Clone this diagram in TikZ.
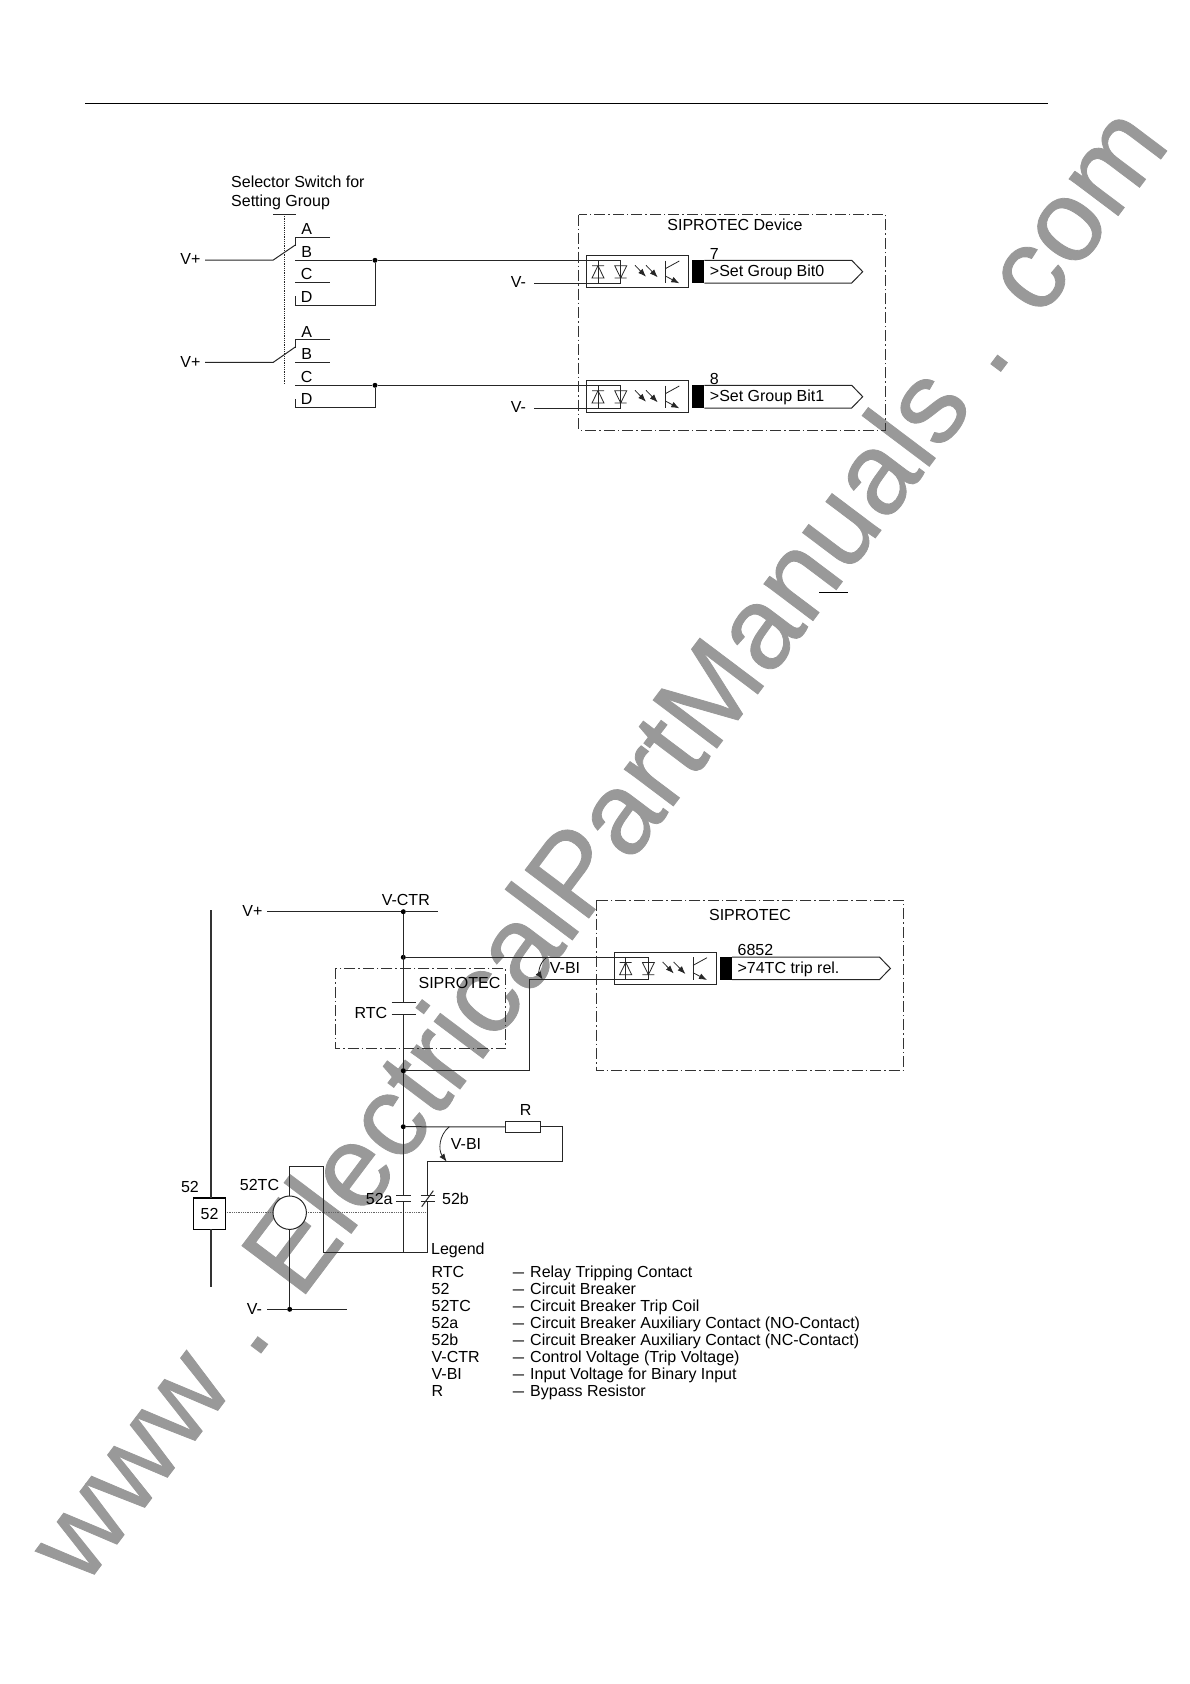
\documentclass[tikz,border=0pt]{standalone}
\usepackage{fontspec}
\setmainfont{Liberation Sans}
\newfontfamily\markfont[FakeBold=0.7]{Liberation Sans}
\usetikzlibrary{arrows.meta}
\tikzset{
  wire/.style={line width=1pt,black!85},
  thin wire/.style={line width=.8pt,black!85},
  device/.style={line width=1pt,black!80,dash pattern=on 11pt off 3pt on 1.5pt off 3pt},
  lbl/.style={inner sep=0pt,text height=11.5pt,text depth=0pt,font=\fontsize{16}{16}\selectfont},
  junction/.style={circle,fill=black,inner sep=0pt,minimum size=5pt},
  tip/.style={-{Latex[length=8pt,width=6pt]}}
}
\newcommand{\legdash}{\resizebox{11.3pt}{\height}{—}\hspace{6pt}}
\begin{document}
\begin{tikzpicture}[x=1pt,y=-1pt]
\useasboundingbox (0,0) rectangle (1190,1684);
\node (watermark) at (84,1588) [anchor=base west,inner sep=0pt,rotate=53,text=black!40,font=\markfont\fontsize{116}{116}\selectfont] {www . ElectricalPartManuals . com};

\draw [line width=1pt] (85,103.3) -- (1048,103.3);
\draw [line width=1pt] (819,592.3) -- (847.7,592.3);

\node at (231,187) [lbl,anchor=base west] (title1) {Selector Switch for};
\node at (231,206) [lbl,anchor=base west] (title2) {Setting Group};
\draw [wire] (273,214) -- (296,214);
\draw [thin wire,densely dotted] (284.3,214) -- (284.3,384);

\foreach \row/\ly/\letter in {1/229/A,2/274/C,3/331.7/A,4/353.7/B}
  \node at (306.7,\ly) [lbl] (cont\row) {\letter};
\node at (306.7,251.3) [lbl] (contB) {B};
\node at (306.7,296.7) [lbl] (contD) {D};
\node at (306.7,376.7) [lbl] (contC) {C};
\node at (306.7,399) [lbl] (contDD) {D};

\foreach \wy in {282.7,362.3}
  \draw [wire] (295.3,\wy) -- (330,\wy);

\coordinate (armA) at (295.3,237.3);
\coordinate (armB) at (295.3,339.3);
\draw [wire] (330,237.3) -- (armA) -- ++(0,8.5);
\draw [wire] (330,339.3) -- (armB) -- ++(0,8.5);

\node at (190.5,259) [lbl] (vplusA) {V+};
\node at (190.5,361.5) [lbl] (vplusB) {V+};
\draw [wire] (205,260) -- (273.3,260) -- (295.3,245);
\draw [wire] (205,362.3) -- (273.3,362.3) -- (295.3,347);

\node at (375,260.3) [junction] (dotA) {};
\node at (375,385.3) [junction] (dotB) {};
\draw [wire] (295.3,296) -- (295.3,305.3) -- (375,305.3) -- (dotA);
\draw [wire] (295.3,399) -- (295.3,407.7) -- (375,407.7) -- (dotB);

\node at (518.5,282) [lbl] (vminusA) {V-};
\node at (518.5,407) [lbl] (vminusB) {V-};
\draw [wire] (295.3,260.3) -- (dotA) -- (620.7,260.3) -- (620.7,283.3) -- (534,283.3);
\draw [wire] (295.3,385.3) -- (dotB) -- (620.7,385.3) -- (620.7,408.3) -- (534,408.3);

\draw [device] (578.7,214.7) rectangle (885.3,430);
\node at (735,225) [lbl] (devA) {SIPROTEC Device};

\foreach \dx/\dy/\tagno/\tagname in {0/0/7/{>Set Group Bit0},0/125/8/{>Set Group Bit1},27.7/696.7/6852/{>74TC trip rel.}}
{
\begin{scope}[shift={(\dx,\dy)}]
\draw [wire] (586.3,255.3) rectangle (688.7,287.3);
\draw [thin wire] (598,260.3) -- (598,283.3);
\draw [thin wire] (592,265.7) -- (604,265.7) (598,265.7) -- (592,278) -- (604,278) -- cycle;
\draw [thin wire] (614.7,265.7) -- (626.7,265.7) -- (620.7,278) -- cycle (614.7,278) -- (626.7,278);
\draw [thin wire,tip] (635,265.3) -- (646,276.7);
\draw [thin wire,tip] (646,265.3) -- (657.7,277.3);
\draw [wire] (665.3,260.7) -- (665.3,283.3);
\draw [thin wire] (665.3,268.7) -- (679.3,261);
\draw [thin wire,tip] (665.3,276) -- (679.3,283.3);
\fill (692.3,260.3) rectangle (704.3,283);
\draw [wire] (704.3,260.3) -- (851.7,260.3) -- (862.7,271.7) -- (851.7,283) -- (704.3,283);
\node at (709.7,253.3) [lbl,anchor=west] {\tagno};
\node at (709.7,271) [lbl,anchor=west] {\tagname};
\end{scope}
}

\draw [device] (596.7,900) rectangle (903.3,1070.7);
\node at (750,914.3) [lbl] (devC) {SIPROTEC};
\draw [device] (335,968.3) rectangle (505.7,1048.3);
\node at (459.5,982.7) [lbl] (devB) {SIPROTEC};

\node at (252.5,911) [lbl] (vplusC) {V+};
\node at (405.8,899.3) [lbl] (vctr) {V-CTR};
\node at (403.3,911.7) [junction] (dotC) {};
\node at (403.3,957.3) [junction] (dotD) {};
\node at (403.3,1070.7) [junction] (dotE) {};
\node at (403.3,1126.7) [junction] (dotF) {};
\draw [wire] (267.3,911.7) -- (dotC) -- (437.7,911.7);

\draw [wire] (dotC) -- (403.3,1002);
\draw [wire] (391.7,1002) -- (416,1002);
\draw [wire] (391.7,1014) -- (416,1014);
\node at (370.8,1012.7) [lbl] (rtc) {RTC};
\draw [wire] (403.3,1014) -- (dotE) -- (dotF) -- (403.3,1195);
\draw [wire] (dotD) -- (648.4,957.3) -- (648.4,979.3) -- (529.3,979.3) -- (529.3,1070.7) -- (dotE);

\draw [thin wire,tip] (546.7,957.3) .. controls (538,964) and (539,974) .. (542.7,979.5);
\node at (565,967.7) [lbl] (vbiA) {V-BI};

\node at (522.9,1126.9) [draw,wire,fill=white,minimum width=34.6pt,minimum height=11.7pt,inner sep=0pt] (res) {};
\node at (525.7,1109.3) [lbl] (rlbl) {R};
\draw [wire] (dotF) -- (res.west);
\draw [wire] (res.east) -- (562.7,1126.9) -- (562.7,1161.7) -- (427.7,1161.7) -- (427.7,1195);
\draw [thin wire,tip] (449.3,1126.7) .. controls (439,1135) and (438,1150) .. (446.7,1161.7);
\node at (466,1144) [lbl] (vbiB) {V-BI};

\draw [wire] (396,1195) -- (410.7,1195);
\draw [wire] (396,1201) -- (410.7,1201);
\node at (379.2,1198.3) [lbl] (lblA) {52a};
\draw [wire] (420.7,1195) -- (435.3,1195);
\draw [wire] (420.7,1201) -- (435.3,1201);
\draw [wire] (421.7,1206.7) -- (433.3,1190.7);
\node at (455.5,1198.3) [lbl] (lblB) {52b};

\draw [thin wire,black!60,densely dotted] (226.7,1212.7) -- (427.7,1212.7);

\node at (289.7,1212.7) [draw,wire,fill=white,circle,inner sep=0pt,minimum size=33.4pt] (coil) {};
\node at (259.5,1185) [lbl] (coillbl) {52TC};
\draw [wire] (403.3,1201) -- (403.3,1252.3);
\draw [wire] (427.7,1201) -- (427.7,1252.3) -- (323.7,1252.3) -- (323.7,1166.7) -- (289.7,1166.7) -- (coil.north);
\node at (289.7,1309.3) [junction] (dotG) {};
\draw [wire] (coil.south) -- (dotG);
\draw [wire] (267.3,1309.3) -- (dotG) -- (346.7,1309.3);
\node at (254.5,1308.3) [lbl] (vminusC) {V-};

\node at (209.5,1213.7) [draw,line width=1.2pt,minimum width=32.4pt,minimum height=31.6pt,inner sep=0pt,font=\fontsize{16}{16}\selectfont] (brk) {52};
\node at (190,1186.7) [lbl] (brklbl) {52};
\draw [line width=1.3pt,black!80] (211,910) -- (211,1197.7);
\draw [line width=1.3pt,black!80] (211,1229.3) -- (211,1286.7);

\node at (431,1249) [lbl,anchor=west] (legend) {Legend};
\foreach \row/\ly/\short/\long in {
  1/1271.7/RTC/Relay Tripping Contact,
  2/1289/52/Circuit Breaker,
  3/1306/52TC/Circuit Breaker Trip Coil,
  4/1322.7/52a/Circuit Breaker Auxiliary Contact (NO-Contact),
  5/1340/52b/Circuit Breaker Auxiliary Contact (NC-Contact),
  6/1357/V-CTR/Control Voltage (Trip Voltage),
  7/1374/V-BI/Input Voltage for Binary Input,
  8/1391/R/Bypass Resistor}
{
  \node at (431.5,\ly) [lbl,anchor=west] (key\row) {\short};
  \node at (512.7,\ly) [lbl,anchor=west] (val\row) {\legdash\long};
}
\end{tikzpicture}
\end{document}
